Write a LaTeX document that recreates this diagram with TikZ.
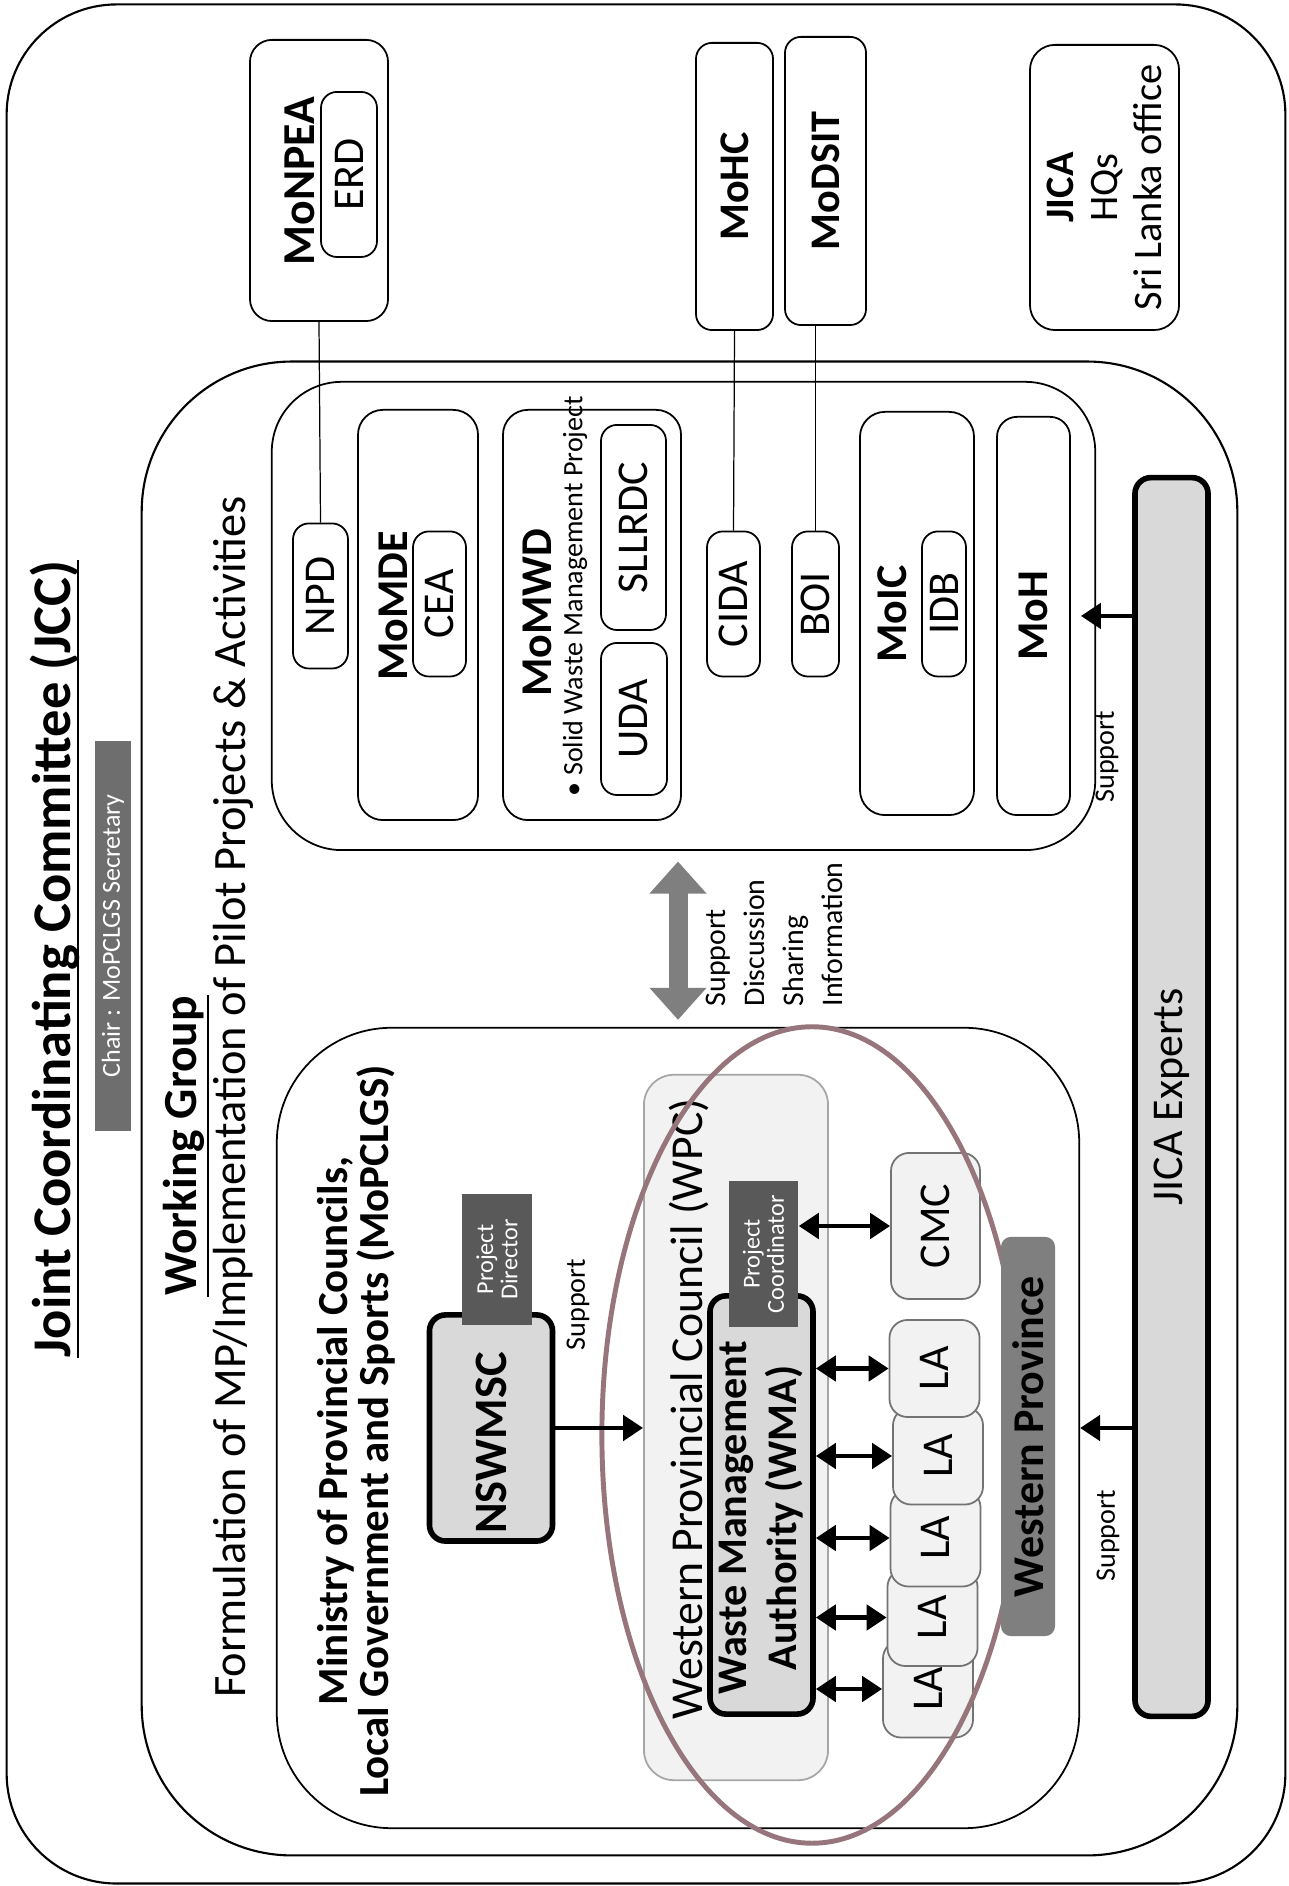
\documentclass[tikz,border=0pt]{standalone}
\usepackage{fontspec}
\setmainfont{Carlito}
\usetikzlibrary{arrows.meta}

\definecolor{keyfill}{HTML}{D9D9D9}
\definecolor{palefill}{HTML}{F2F2F2}
\definecolor{tagfill}{HTML}{595959}
\definecolor{chairfill}{HTML}{6E6E6E}
\definecolor{provfill}{HTML}{7F7F7F}
\definecolor{ovalline}{RGB}{150,118,124}
\definecolor{arrowgrey}{HTML}{7F7F7F}

\tikzset{
  container/.style={draw, line width=0.6pt, inner sep=0pt},
  orgbox/.style={draw, line width=0.5pt, rounded corners=0.16cm, inner sep=0pt, align=center, font=\fontsize{12.5}{15}\selectfont},
  keybox/.style={draw, line width=1.6pt, fill=keyfill, rounded corners=0.16cm, inner sep=0pt, align=center},
  darktag/.style={fill=tagfill, text=white, inner sep=0pt, align=center, font=\fontsize{6.9}{6.9}\selectfont},
  localbox/.style={orgbox, draw=black!55, fill=palefill, rounded corners=0.18cm},
  headtxt/.style={inner sep=0pt, font=\bfseries\fontsize{12.5}{15}\selectfont},
  smalltxt/.style={inner sep=0pt, font=\fontsize{8}{9.6}\selectfont},
  twoway/.style={line width=1.4pt, {Triangle[width=0.25cm,length=0.2cm]}-{Triangle[width=0.25cm,length=0.2cm]}},
  supportarrow/.style={line width=1.4pt, -{Triangle[width=0.25cm,length=0.2cm]}},
  bigarrow/.style={line width=0.19cm, draw=arrowgrey, {Triangle[width=0.55cm,length=0.32cm]}-{Triangle[width=0.55cm,length=0.32cm]}},
  link/.style={line width=0.35pt},
}

\begin{document}
\begin{tikzpicture}[x=0.01cm, y=-0.01cm]
\begin{scope}[rotate=90, transform shape]
  \useasboundingbox (0,0) rectangle (1886,1289);
  \fill[white] (0,0) rectangle (1886,1289);

  % JCC frame and title
  \node[container, rounded corners=1.1cm, minimum width=18.78cm, minimum height=12.78cm] (jccframe) at (942,646) {};
  \node[inner sep=0pt, anchor=base, font=\bfseries\fontsize{15.5}{18}\selectfont] (jcctitle) at (927,70) {Joint Coordinating Committee (JCC)};
  \draw[line width=0.7pt] ([yshift=-2.3pt]jcctitle.base west) -- ([yshift=-2.3pt]jcctitle.base east);
  \node[darktag, fill=chairfill, minimum width=3.9cm, minimum height=0.36cm, font=\fontsize{7.4}{9}\selectfont] (chair) at (950,113) {Chair : MoPCLGS Secretary};

  % working group
  \node[container, rounded corners=1.5cm, minimum width=14.93cm, minimum height=10.95cm] (wgframe) at (777.5,689.5) {};
  \node[inner sep=0pt, anchor=base, font=\bfseries\fontsize{13.5}{16}\selectfont] (wgtitle) at (740,196) {Working Group};
  \draw[line width=0.7pt] ([yshift=-3.4pt]wgtitle.base west) -- ([yshift=-3.4pt]wgtitle.base east);
  \node[inner sep=0pt, anchor=base, font=\fontsize{13.2}{15}\selectfont] (wgtask) at (789,245) {Formulation of MP/Implementation of Pilot Projects \& Activities};

  % MoPCLGS side
  \node[container, line width=0.5pt, rounded corners=1.15cm, minimum width=8cm, minimum height=8.02cm] (mopclgs) at (458,678) {};
  \node[inner sep=0pt, align=center, font=\bfseries\fontsize{12.2}{11.7}\selectfont] (mopclgstxt) at (455,356) {Ministry of Provincial Councils,\\Local Government and Sports (MoPCLGS)};
  \node[keybox, minimum width=2.26cm, minimum height=1.23cm] (nswmsc) at (458,491) {};
  \node[inner sep=0pt, font=\bfseries\fontsize{13.2}{15}\selectfont] (nswmsctxt) at (443,491) {NSWMSC};
  \node[darktag, minimum width=1.31cm, minimum height=0.69cm] (pdirector) at (626.5,497) {Project\\Director};
  \node[smalltxt, anchor=west] (sup1) at (535,578) {Support};

  \node[draw=black!35, fill=palefill, line width=0.5pt, rounded corners=0.3cm, inner sep=0pt, minimum width=7.05cm, minimum height=1.84cm] (wpc) at (458.5,736) {};
  \node[inner sep=0pt, anchor=base, font=\fontsize{13}{15}\selectfont] (wpctxt) at (477,702) {Western Provincial Council (WPC)};
  \node[keybox, minimum width=4.18cm, minimum height=1.03cm] (wma) at (381,761.5) {};
  \node[inner sep=0pt, align=center, font=\bfseries\fontsize{12}{14.2}\selectfont] (wmatxt) at (368,761.5) {Waste Management\\Authority (WMA)};
  \node[darktag, minimum width=1.46cm, minimum height=0.69cm] (pcoord) at (632,763.5) {Project\\Coordinator};

  \foreach \name/\cx/\cy in {la5/197/928, la4/268.5/932.5, la3/348/935.5, la2/430/938, la1/517.5/934.5}
    \node[localbox, minimum width=0.97cm, minimum height=0.9cm] (\name) at (\cx,\cy) {LA};
  \node[localbox, minimum width=1.46cm, minimum height=0.89cm] (cmc) at (660,935.5) {CMC};

  \draw[ovalline, line width=1.4pt] (451,812) ellipse [x radius=4.08cm, y radius=2.1cm];

  \foreach \name in {la1,la2,la3,la4,la5}
    \draw[twoway] (\name.north |- wma.south) -- (\name.north);
  \draw[twoway] (cmc.north |- pcoord.south) -- (cmc.north);
  \draw[supportarrow] (nswmsc.south) -- (nswmsc.south |- wpc.north);

  \node[fill=provfill, rounded corners=0.1cm, inner sep=0pt, minimum width=3.99cm, minimum height=0.54cm, font=\bfseries\fontsize{12.5}{15}\selectfont] (wprov) at (449.5,1028) {Western Province};

  % pilot projects side
  \node[container, line width=0.5pt, rounded corners=0.7cm, minimum width=4.68cm, minimum height=8.23cm] (pilot) at (1270,683.5) {};
  \node[orgbox, minimum width=1.45cm, minimum height=0.55cm] (npd) at (1290,320.5) {NPD};
  \node[orgbox, rounded corners=0.25cm, minimum width=4.1cm, minimum height=1.2cm] (momde) at (1271,418) {};
  \node[headtxt] (momdetxt) at (1280,393) {MoMDE};
  \node[orgbox, minimum width=1.45cm, minimum height=0.53cm] (cea) at (1282,439.5) {CEA};
  \node[orgbox, rounded corners=0.25cm, minimum width=4.1cm, minimum height=1.78cm] (momwd) at (1271,592) {};
  \node[headtxt] (momwdtxt) at (1273,537) {MoMWD};
  \node[smalltxt, anchor=west] (swmp) at (1089,575) {\textbullet\ Solid Waste Management Project};
  \node[orgbox, minimum width=2.05cm, minimum height=0.65cm] (sllrdc) at (1358.5,633.5) {SLLRDC};
  \node[orgbox, minimum width=1.52cm, minimum height=0.66cm] (uda) at (1167,634) {UDA};
  \node[orgbox, minimum width=1.45cm, minimum height=0.53cm] (cida) at (1282,733.5) {CIDA};
  \node[orgbox, minimum width=1.45cm, minimum height=0.47cm] (boi) at (1282,815.5) {BOI};
  \node[orgbox, rounded corners=0.25cm, minimum width=4.03cm, minimum height=1.14cm] (moic) at (1272.5,917) {};
  \node[headtxt] (moictxt) at (1272,892) {MoIC};
  \node[orgbox, minimum width=1.45cm, minimum height=0.44cm] (idb) at (1282,944) {IDB};
  \node[orgbox, rounded corners=0.2cm, minimum width=3.98cm, minimum height=0.73cm, font=\bfseries\fontsize{12.5}{15}\selectfont] (moh) at (1270,1033.5) {MoH};

  \draw[bigarrow, shorten <=2pt, shorten >=3pt] (mopclgs.east) -- (pilot.west |- mopclgs.east);
  \node[inner sep=0pt, anchor=north west, align=left, font=\fontsize{8.5}{11.1}\selectfont] (sharing) at (879,705) {Support\\Discussion\\Sharing\\Information};

  % ministries outside the working group
  \node[orgbox, rounded corners=0.22cm, minimum width=2.81cm, minimum height=1.38cm] (monpea) at (1705.5,319) {};
  \node[headtxt, font=\bfseries\fontsize{13}{15}\selectfont] (monpeatxt) at (1705,300) {MoNPEA};
  \node[orgbox, minimum width=1.65cm, minimum height=0.56cm] (erd) at (1711.5,349) {ERD};
  \node[orgbox, minimum width=2.87cm, minimum height=0.77cm, font=\bfseries\fontsize{12}{15}\selectfont] (mohc) at (1699.5,734.5) {MoHC};
  \node[orgbox, minimum width=2.88cm, minimum height=0.81cm, font=\bfseries\fontsize{12}{15}\selectfont] (modsit) at (1705,825.5) {MoDSIT};
  \node[orgbox, rounded corners=0.25cm, minimum width=2.85cm, minimum height=1.49cm, font=\fontsize{11.5}{12.5}\selectfont] (jicahq) at (1698.5,1104.5) {\textbf{JICA}\\HQs\\Sri Lanka office};

  \draw[link] (monpea.west) -- (npd.east);
  \draw[link] (mohc.west) -- (cida.east);
  \draw[link] (modsit.west |- boi) -- (boi.east);

  % JICA experts
  \node[keybox, minimum width=12.38cm, minimum height=0.73cm, font=\fontsize{12.5}{15}\selectfont] (jicaexp) at (789,1171.5) {JICA Experts};
  \draw[supportarrow] (nswmsc |- jicaexp.north) -- (nswmsc |- mopclgs.south);
  \node[smalltxt] (sup2) at (350,1108) {Support};
  \draw[supportarrow, shorten >=0.1cm] (moh |- jicaexp.north) -- (moh.south);
  \node[smalltxt] (sup3) at (1129,1107) {Support};
\end{scope}
\end{tikzpicture}
\end{document}
